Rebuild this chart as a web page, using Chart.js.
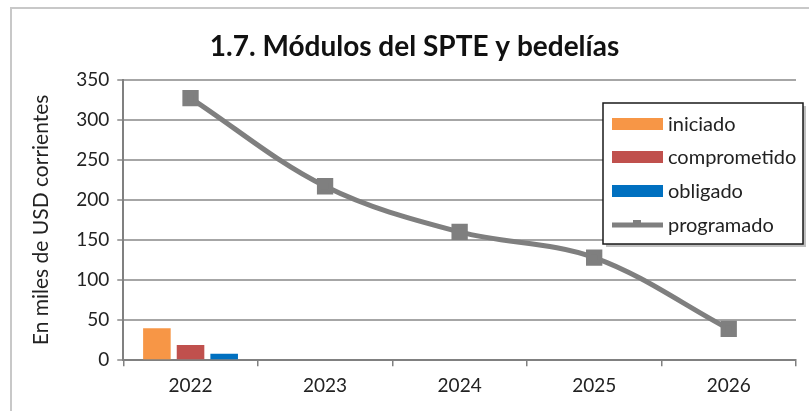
<!DOCTYPE html>
<html>
<head>
<meta charset="utf-8">
<script src="https://cdn.jsdelivr.net/npm/chart.js@4"></script>
<style>
  html, body { margin: 0; padding: 0; background: #fff; }
  #wrap { position: relative; width: 809px; height: 411px; overflow: hidden; }
  #frame { position: absolute; left: 10px; top: 7px; width: 820px; height: 420px;
           border: 2px solid #c8c8c8; box-sizing: border-box; }
  canvas { position: absolute; left: 0; top: 0; }
</style>
</head>
<body>
<div id="wrap">
  <div id="frame"></div>
  <canvas id="c" width="809" height="411"></canvas>
</div>
<script>
// ── data ──
const years = ['2022', '2023', '2024', '2025', '2026'];
const iniciado = [40, null, null, null, null];
const comprometido = [19, null, null, null, null];
const obligado = [8, null, null, null, null];
const programado = [327, 217, 160, 128, 39];
const yTicks = [0, 50, 100, 150, 200, 250, 300, 350];

const FONT = 'Lato, "Open Sans", sans-serif';
const gridGray = '#a6a6a6';
const lineGray = '#7f7f7f';

// legend box drawn over the plot area, like the original
const boxLegend = {
  id: 'boxLegend',
  afterDraw(chart) {
    const ctx = chart.ctx;
    const x = 603, y = 103, w = 200, h = 141;
    ctx.save();
    ctx.fillStyle = 'rgba(0,0,0,0.25)';
    ctx.fillRect(x + 3, y + 3, w, h);
    ctx.fillStyle = '#fff';
    ctx.fillRect(x, y, w, h);
    ctx.strokeStyle = '#1a1a1a';
    ctx.lineWidth = 1.5;
    ctx.strokeRect(x, y, w, h);
    ctx.font = '20px ' + FONT;
    ctx.textBaseline = 'middle';
    const rows = [124, 157, 191, 225];
    chart.data.datasets.forEach((ds, i) => {
      const ry = rows[i];
      if (ds.type === 'line') {
        ctx.strokeStyle = ds.borderColor;
        ctx.lineWidth = 5;
        ctx.beginPath();
        ctx.moveTo(612, ry); ctx.lineTo(663, ry);
        ctx.stroke();
        ctx.fillStyle = ds.borderColor;
        ctx.fillRect(633, ry - 5, 8, 6);
      } else {
        ctx.fillStyle = ds.backgroundColor;
        ctx.fillRect(612, ry - 6, 51, 12);
      }
      ctx.fillStyle = '#222';
      ctx.fillText(ds.label, 668, ry + 1);
    });
    ctx.restore();
  }
};

new Chart(document.getElementById('c'), {
  data: {
    labels: years,
    datasets: [
      { type: 'bar', label: 'iniciado', data: iniciado, backgroundColor: '#f79646',
        categoryPercentage: 0.75, barPercentage: 0.82, order: 2 },
      { type: 'bar', label: 'comprometido', data: comprometido, backgroundColor: '#c0504d',
        categoryPercentage: 0.75, barPercentage: 0.82, order: 2 },
      { type: 'bar', label: 'obligado', data: obligado, backgroundColor: '#0070c0',
        categoryPercentage: 0.75, barPercentage: 0.82, order: 2 },
      { type: 'line', label: 'programado', data: programado,
        borderColor: lineGray, backgroundColor: lineGray, borderWidth: 5,
        tension: 0.35, pointStyle: 'rect', pointRadius: 8, pointHoverRadius: 8,
        pointBackgroundColor: lineGray, pointBorderColor: lineGray, order: 1 }
    ]
  },
  options: {
    responsive: false,
    animation: false,
    layout: { padding: { left: 25, right: 5, top: 0, bottom: 6 } },
    plugins: {
      legend: { display: false },
      tooltip: { enabled: false },
      title: {
        display: true,
        text: '1.7. Módulos del SPTE y bedelías',
        color: '#111',
        font: { family: FONT, size: 28, weight: 'bold' },
        padding: { top: 30, bottom: 16 }
      }
    },
    scales: {
      x: {
        offset: true,
        grid: { offset: true, drawOnChartArea: false, color: '#808080', tickLength: 6, lineWidth: 1.5 },
        border: { color: '#808080', width: 2 },
        ticks: { color: '#222', font: { family: FONT, size: 19 }, padding: 8 }
      },
      y: {
        min: 0, max: 350,
        afterBuildTicks: axis => { axis.ticks = yTicks.map(v => ({ value: v })); },
        grid: { color: gridGray, lineWidth: 2, tickLength: 6 },
        border: { color: '#808080', width: 2 },
        ticks: { color: '#222', font: { family: FONT, size: 19 }, padding: 8 },
        title: {
          display: true,
          text: 'En miles de USD corrientes',
          color: '#222',
          font: { family: FONT, size: 21 },
          padding: { bottom: 14 }
        }
      }
    }
  },
  plugins: [boxLegend]
});
</script>
</body>
</html>
